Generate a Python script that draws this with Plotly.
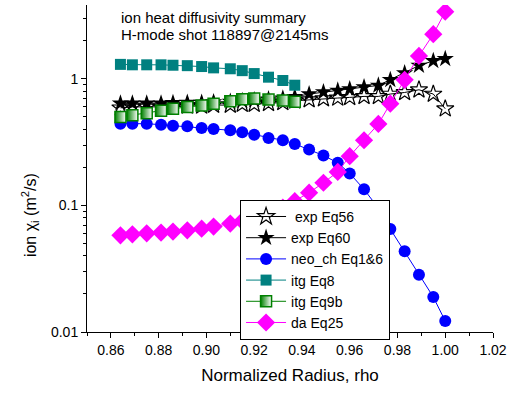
import plotly.graph_objects as go

# Normalized radius grid (rho)
rho = [0.864, 0.869, 0.875, 0.881, 0.886, 0.892, 0.898, 0.903, 0.910, 0.915,
       0.920, 0.926, 0.932, 0.937, 0.943, 0.949, 0.955, 0.960, 0.966, 0.972,
       0.977, 0.983, 0.989, 0.995, 1.000]

# Ion heat diffusivity, m^2/s
exp_eq56 = [0.59, 0.60, 0.60, 0.60, 0.60, 0.61, 0.61, 0.62, 0.62, 0.63,
            0.63, 0.64, 0.65, 0.67, 0.684, 0.696, 0.705, 0.713, 0.726, 0.726,
            0.758, 0.780, 0.819, 0.758, 0.580]
exp_eq60 = [0.64, 0.64, 0.64, 0.64, 0.645, 0.65, 0.65, 0.655, 0.66, 0.67,
            0.68, 0.69, 0.70, 0.72, 0.758, 0.786, 0.809, 0.830, 0.860, 0.886,
            0.982, 1.109, 1.273, 1.386, 1.437]
neo_ch = [0.442, 0.442, 0.442, 0.434, 0.426, 0.421, 0.409, 0.402, 0.392, 0.378,
          0.362, 0.341, 0.327, 0.306, 0.277, 0.248, 0.217, 0.179, 0.134, 0.095,
          0.065, 0.0434, 0.0283, 0.0189, 0.0122]
itg_eq8 = [1.30, 1.29, 1.29, 1.29, 1.28, 1.27, 1.25, 1.22, 1.20, 1.16,
           1.10, 1.03, 0.97, 0.89]
itg_eq9b = [0.50, 0.515, 0.535, 0.56, 0.58, 0.60, 0.615, 0.635, 0.665, 0.69,
            0.70, 0.685, 0.675, 0.66]
da_eq25 = [0.058, 0.0591, 0.0602, 0.061, 0.0621, 0.0636, 0.0655, 0.068, 0.0718, 0.0752,
           0.079, 0.086, 0.096, 0.108, 0.126, 0.151, 0.184, 0.245, 0.327, 0.44,
           0.636, 0.982, 1.517, 2.25, 3.39]

x_ticks = [0.86, 0.88, 0.90, 0.92, 0.94, 0.96, 0.98, 1.00, 1.02]
y_ticks = [0.01, 0.1, 1]
y_ticklabels = ["0.01", "0.1", "1"]
y_minor = [0.02, 0.03, 0.04, 0.05, 0.06, 0.07, 0.08, 0.09,
           0.2, 0.3, 0.4, 0.5, 0.6, 0.7, 0.8, 0.9, 2, 3]

FONT = "Arial, Liberation Sans, sans-serif"

fig = go.Figure()

fig.add_trace(go.Scatter(
    x=rho, y=exp_eq56, name=" exp Eq56", mode="lines+markers",
    line=dict(color="black", width=1),
    marker=dict(symbol="star-open", size=13, color="black", line=dict(width=1.2, color="black")),
))
fig.add_trace(go.Scatter(
    x=rho, y=exp_eq60, name="exp Eq60", mode="lines+markers",
    line=dict(color="black", width=1),
    marker=dict(symbol="star", size=13, color="black"),
))
fig.add_trace(go.Scatter(
    x=rho, y=neo_ch, name="neo_ch Eq1&6", mode="lines+markers",
    line=dict(color="#0000FF", width=1),
    marker=dict(symbol="circle", size=12, color="#0000FF"),
))
fig.add_trace(go.Scatter(
    x=rho[:len(itg_eq8)], y=itg_eq8, name="itg Eq8", mode="lines+markers",
    line=dict(color="#008080", width=1),
    marker=dict(symbol="square", size=11, color="#008080"),
))
fig.add_trace(go.Scatter(
    x=rho[:len(itg_eq9b)], y=itg_eq9b, name="itg Eq9b", mode="lines+markers",
    line=dict(color="#008000", width=1),
    marker=dict(symbol="square", size=11, color="#008000",
                gradient=dict(type="horizontal", color="white"),
                line=dict(width=1.5, color="#008000")),
))
fig.add_trace(go.Scatter(
    x=rho, y=da_eq25, name="da Eq25", mode="lines+markers",
    line=dict(color="#FF00FF", width=1),
    marker=dict(symbol="diamond", size=14, color="#FF00FF"),
))

# Two-line caption in the upper left corner
for txt, ypos in [("ion heat diffusivity summary", 0.963),
                  ("H-mode shot 118897@2145ms", 0.911)]:
    fig.add_annotation(
        xref="paper", yref="paper", x=0.078, y=ypos, xanchor="left", yanchor="middle",
        text=txt, showarrow=False, font=dict(family=FONT, size=15, color="black"),
    )

# Vertical axis title
fig.add_annotation(
    xref="paper", yref="paper", x=-0.140, y=0.358, xanchor="center", yanchor="middle",
    text="ion χ<sub>i</sub> (m<sup>2</sup>/s)", textangle=-90, showarrow=False,
    font=dict(family=FONT, size=16, color="black"),
)

fig.update_layout(
    width=513, height=393,
    margin=dict(l=87, r=20, t=5, b=61),
    paper_bgcolor="white", plot_bgcolor="white",
    font=dict(family=FONT, size=14, color="black"),
    showlegend=True,
    legend=dict(
        x=0.377, y=0.404, xanchor="left", yanchor="top",
        bgcolor="white", bordercolor="black", borderwidth=1,
        font=dict(family=FONT, size=14, color="black"),
        itemwidth=40, tracegroupgap=0,
    ),
    xaxis=dict(
        range=[0.85, 1.02], tickvals=x_ticks, ticktext=[f"{v:.2f}" for v in x_ticks],
        ticks="outside", ticklen=5, tickwidth=1, tickcolor="black",
        showline=True, linecolor="black", linewidth=1, showgrid=False, zeroline=False,
        minor=dict(dtick=0.01, ticks="outside", ticklen=3, tickcolor="black", showgrid=False),
        title=dict(text="Normalized Radius, rho", font=dict(family=FONT, size=17), standoff=12),
        tickfont=dict(family=FONT, size=14),
    ),
    yaxis=dict(
        type="log", range=[-2, 0.583], tickvals=y_ticks, ticktext=y_ticklabels,
        ticks="outside", ticklen=5, tickwidth=1, tickcolor="black",
        showline=True, linecolor="black", linewidth=1, showgrid=False, zeroline=False,
        minor=dict(ticks="outside", ticklen=3, tickcolor="black", showgrid=False,
                   tickvals=y_minor),
        tickfont=dict(family=FONT, size=14),
    ),
)

fig.write_html("out.html")
